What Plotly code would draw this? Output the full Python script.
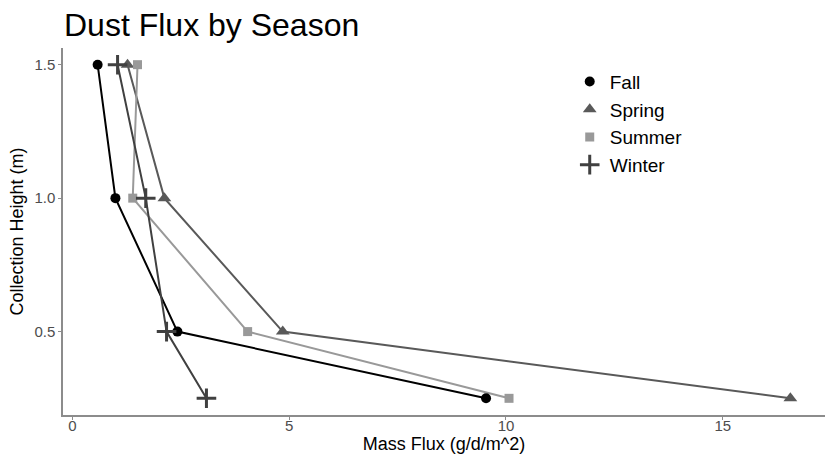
import plotly.graph_objects as go

heights = [1.5, 1.0, 0.5, 0.25]
fall = [0.58, 0.99, 2.42, 9.54]
spring = [1.27, 2.12, 4.85, 16.56]
summer = [1.50, 1.39, 4.04, 10.07]
winter = [1.04, 1.69, 2.17, 3.09]
seasons = ["Fall", "Spring", "Summer", "Winter"]
series = [fall, spring, summer, winter]
colors = ["#000000", "#595959", "#999999", "#404040"]
symbols = ["circle", "triangle-up", "square", "cross-thin"]
sizes = [10, 12, 9, 14]

fig = go.Figure()
for name, vals, c, s, sz in zip(seasons, series, colors, symbols, sizes):
    fig.add_trace(go.Scatter(x=vals, y=heights, mode="lines", line=dict(color=c, width=2),
                             showlegend=False, hoverinfo="skip"))
for name, vals, c, s, sz in zip(seasons, series, colors, symbols, sizes):
    mk = dict(symbol=s, size=sz, color=c)
    if s == "cross-thin":
        mk["line"] = dict(color=c, width=3)
    fig.add_trace(go.Scatter(x=vals, y=heights, mode="markers", name=name, marker=mk))

allx = [v for vals in series for v in vals]
xmin, xmax = min(allx), max(allx)
xe = (xmax - xmin) * 0.05
ymin, ymax = min(heights), max(heights)
ye = (ymax - ymin) * 0.05

axis_common = dict(showgrid=False, zeroline=False, showline=True, linecolor="#8c8c8c", linewidth=1.5,
                   ticks="outside", ticklen=3, tickcolor="#8c8c8c",
                   tickfont=dict(family="Liberation Sans, Arial", size=15, color="#4d4d4d"))

fig.update_layout(
    width=826, height=458,
    margin=dict(l=63, r=1, t=48, b=43),
    plot_bgcolor="white", paper_bgcolor="white",
    title=dict(text="Dust Flux by Season", xref="container", yref="container",
               x=64/826, xanchor="left", y=1-25/458, yanchor="middle",
               font=dict(family="Liberation Sans, Arial", size=32, color="black")),
    xaxis=dict(range=[xmin - xe, xmax + xe], tickvals=[0, 5, 10, 15], ticktext=["0", "5", "10", "15"],
               ticklabelstandoff=-7,
               title=dict(text="Mass Flux (g/d/m^2)", standoff=2,
                          font=dict(family="Liberation Sans, Arial", size=18, color="black")),
               **axis_common),
    yaxis=dict(range=[ymin - ye, ymax + ye], tickvals=[0.5, 1.0, 1.5], ticktext=["0.5", "1.0", "1.5"],
               title=dict(text="Collection Height (m)", standoff=6,
                          font=dict(family="Liberation Sans, Arial", size=18, color="black")),
               **axis_common),
    legend=dict(x=0.665, y=0.96, xanchor="left", yanchor="top", bgcolor="rgba(0,0,0,0)",
                font=dict(family="Liberation Sans, Arial", size=19, color="black"),
                tracegroupgap=0, itemwidth=30),
)
fig.write_html("out.html")
